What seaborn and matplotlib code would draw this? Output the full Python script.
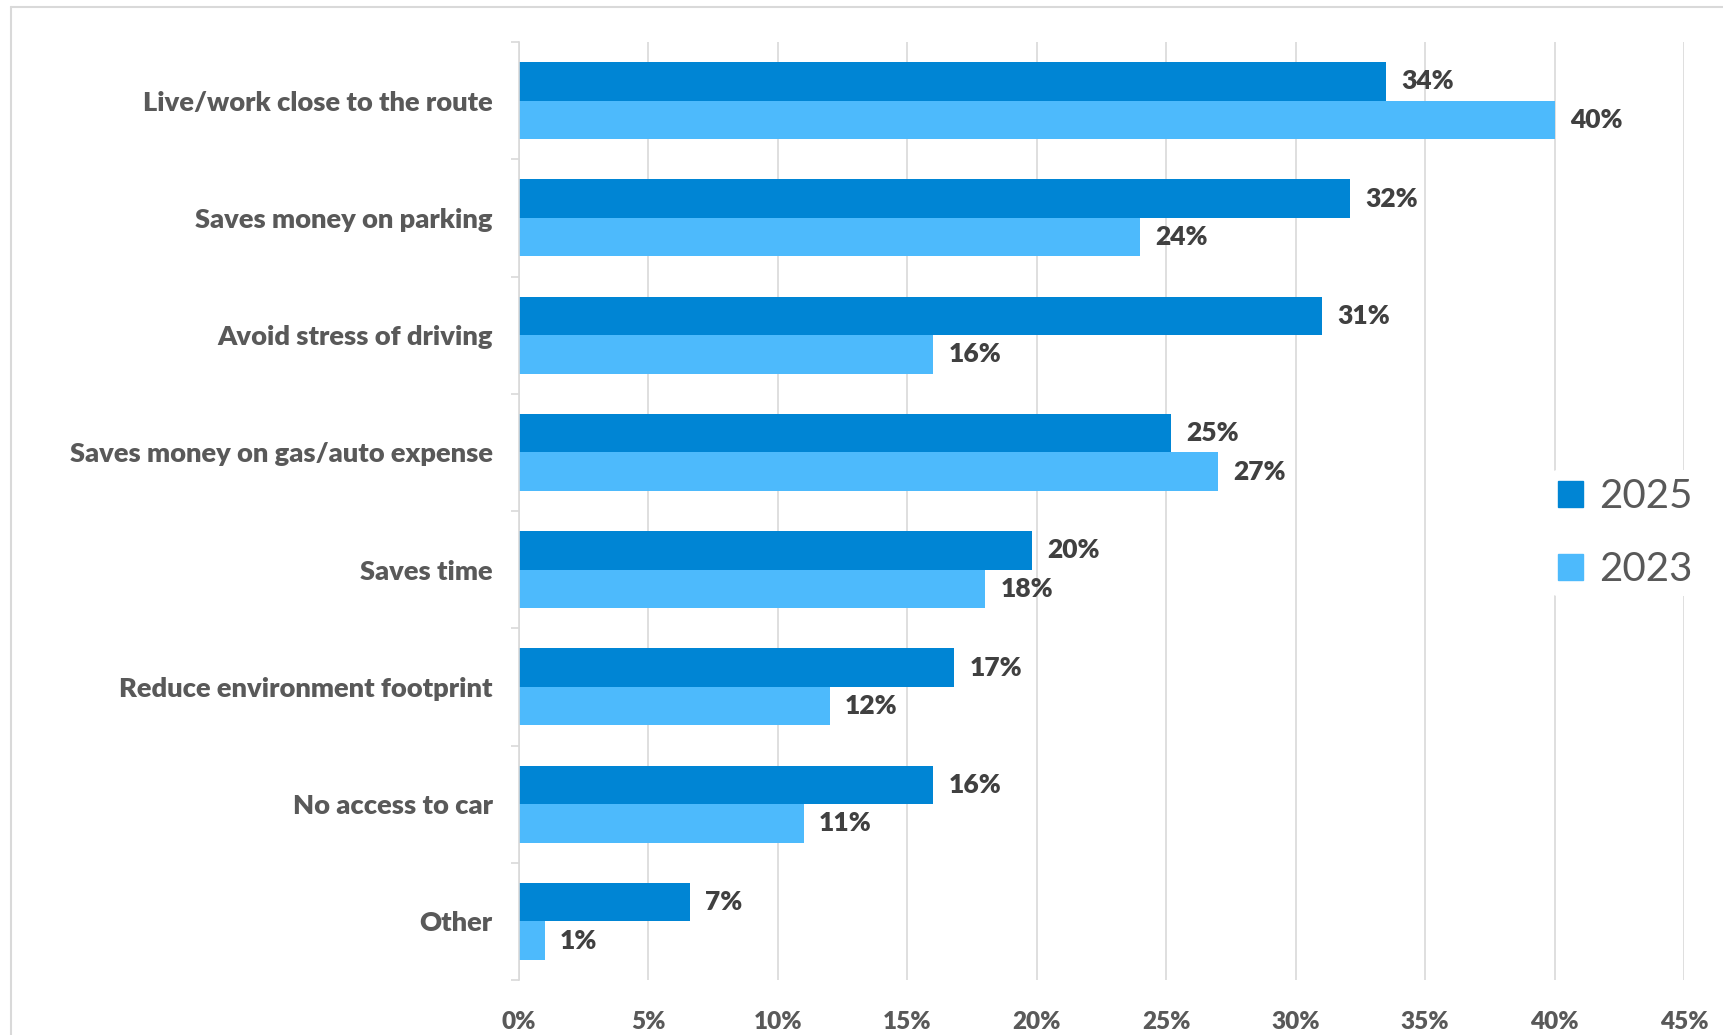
import matplotlib
matplotlib.use("Agg")
import matplotlib.pyplot as plt
from matplotlib.lines import Line2D
import seaborn as sns
import pandas as pd
import numpy as np

# Reasons for riding, share of respondents (%)
reasons = [
    "Live/work close to the route",
    "Saves money on parking",
    "Avoid stress of driving",
    "Saves money on gas/auto expense",
    "Saves time",
    "Reduce environment footprint",
    "No access to car",
    "Other",
]
years = ["2025", "2023"]
share_2025 = [33.5, 32.1, 31.0, 25.2, 19.8, 16.8, 16.0, 6.6]
share_2023 = [40.0, 24.0, 16.0, 27.0, 18.0, 12.0, 11.0, 1.0]
x_ticks = [0, 5, 10, 15, 20, 25, 30, 35, 40, 45]

colors = {"2025": "#0085D4", "2023": "#4DBAFC"}
label_gray = "#595959"
value_gray = "#404040"
grid_gray = "#D9D9D9"

df = pd.DataFrame({
    "reason": reasons * 2,
    "share": share_2025 + share_2023,
    "year": ["2025"] * len(reasons) + ["2023"] * len(reasons),
})

sns.set_theme(style="white")
plt.rcParams["font.family"] = ["Lato", "DejaVu Sans"]

W, H = 1723, 1035
fig = plt.figure(figsize=(W / 100, H / 100), dpi=100)
ax = fig.add_axes([519 / W, 1 - 980 / H, (1684 - 519) / W, (980 - 42) / H])

sns.barplot(
    data=df, y="reason", x="share", hue="year", hue_order=years,
    order=reasons, palette=colors, width=0.656, orient="h",
    saturation=1, ax=ax, legend=True, edgecolor="none",
)

# value labels at the end of each bar
for container, vals in zip(ax.containers, [share_2025, share_2023]):
    ax.bar_label(container, labels=[f"{v:.0f}%" for v in vals], padding=11,
                 fontsize=19, fontweight="heavy", color=value_gray)

ax.set_xlim(0, 45)
ax.set_ylim(len(reasons) - 0.5, -0.5)
ax.set_xticks(x_ticks)
ax.set_xticklabels([f"{t}%" for t in x_ticks], fontsize=17.5,
                   fontweight="heavy", color=label_gray)
ax.tick_params(axis="x", length=0, pad=22)
ax.xaxis.grid(True, color=grid_gray, linewidth=1.2)
ax.set_axisbelow(True)

# category separators as major ticks, names as minor tick labels
ax.set_yticks(np.arange(-0.5, len(reasons), 1.0))
ax.set_yticklabels([])
ax.set_yticks(np.arange(len(reasons)), minor=True)
ax.set_yticklabels(reasons, minor=True, fontsize=19.6, fontweight="heavy",
                   color=label_gray)
ax.tick_params(axis="y", which="major", length=6, width=1.2, color=grid_gray,
               left=True)
ax.tick_params(axis="y", which="minor", length=0, pad=19)

ax.set_xlabel("")
ax.set_ylabel("")
for side in ["top", "right", "bottom"]:
    ax.spines[side].set_visible(False)
ax.spines["left"].set_color(grid_gray)
ax.spines["left"].set_linewidth(1.2)

ax.legend_.remove()
handles = [plt.Rectangle((0, 0), 1, 1, color=colors[y]) for y in years]
leg = fig.legend(
    handles, years, loc="center left", bbox_to_anchor=(1550 / W, 1 - 533 / H),
    fontsize=29, frameon=True, facecolor="white", edgecolor="none",
    framealpha=1, handlelength=0.63, handleheight=0.63, handletextpad=0.4,
    labelspacing=0.9, borderpad=0.2, borderaxespad=0,
)
for t in leg.get_texts():
    t.set_color(label_gray)

# chart frame edges
fig.add_artist(Line2D([11 / W, 11 / W], [0, 1 - 7 / H], transform=fig.transFigure,
                      color=grid_gray, linewidth=1.5))
fig.add_artist(Line2D([11 / W, 1], [1 - 7 / H, 1 - 7 / H], transform=fig.transFigure,
                      color=grid_gray, linewidth=1.5))

fig.savefig("out.png", dpi=100, facecolor="white")
